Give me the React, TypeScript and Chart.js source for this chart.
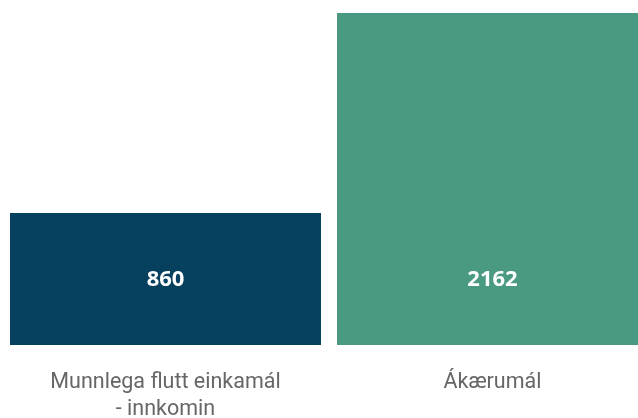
import React, { useEffect, useRef } from "react";
import { Chart, registerables } from "chart.js";

Chart.register(...registerables);

const categories: string[][] = [["Munnlega flutt einkamál", "- innkomin"], ["Ákærumál"]];
const values: number[] = [860, 2162];
const barColors: string[] = ["#05405f", "#4a9982"];

const valueLabelPlugin = {
  id: "valueLabels",
  afterDatasetsDraw(chart: any) {
    const { ctx } = chart;
    const meta = chart.getDatasetMeta(0);
    const yScale = chart.scales.y;
    const minVal = Math.min(...values);
    const yPos = yScale.getPixelForValue(minVal / 2) + 1;
    ctx.save();
    ctx.fillStyle = "#ffffff";
    ctx.font = "bold 22px 'Open Sans'";
    ctx.textAlign = "center";
    ctx.textBaseline = "middle";
    meta.data.forEach((bar: any, i: number) => {
      ctx.fillText(String(values[i]), bar.x, yPos);
    });
    ctx.restore();
  },
};

export default function App() {
  const ref = useRef<HTMLCanvasElement>(null);
  useEffect(() => {
    document.body.style.margin = "0";
    const chart = new Chart(ref.current!, {
      type: "bar",
      data: {
        labels: categories,
        datasets: [
          {
            data: values,
            backgroundColor: barColors,
            borderWidth: 0,
            categoryPercentage: 1,
            barPercentage: 0.951,
          },
        ],
      },
      options: {
        animation: false,
        responsive: false,
        layout: { padding: { left: 2, right: 2, top: 13, bottom: 0 } },
        plugins: { legend: { display: false }, tooltip: { enabled: false } },
        scales: {
          x: {
            grid: { display: false },
            border: { display: false },
            ticks: {
              color: "#666666",
              font: { family: "Roboto", size: 21.5, lineHeight: 1.256 },
              padding: 16,
              maxRotation: 0,
              autoSkip: false,
            },
            afterFit(scale: any) {
              scale.height = 73;
            },
          },
          y: {
            display: false,
            min: 0,
            max: Math.max(...values),
          },
        },
      },
      plugins: [valueLabelPlugin],
    });
    return () => chart.destroy();
  }, []);
  return (
    <div style={{ position: "fixed", left: 0, top: 0, width: 638, height: 418, overflow: "hidden" }}>
      <canvas ref={ref} width={658} height={418} style={{ width: 658, height: 418, display: "block" }} />
    </div>
  );
}
